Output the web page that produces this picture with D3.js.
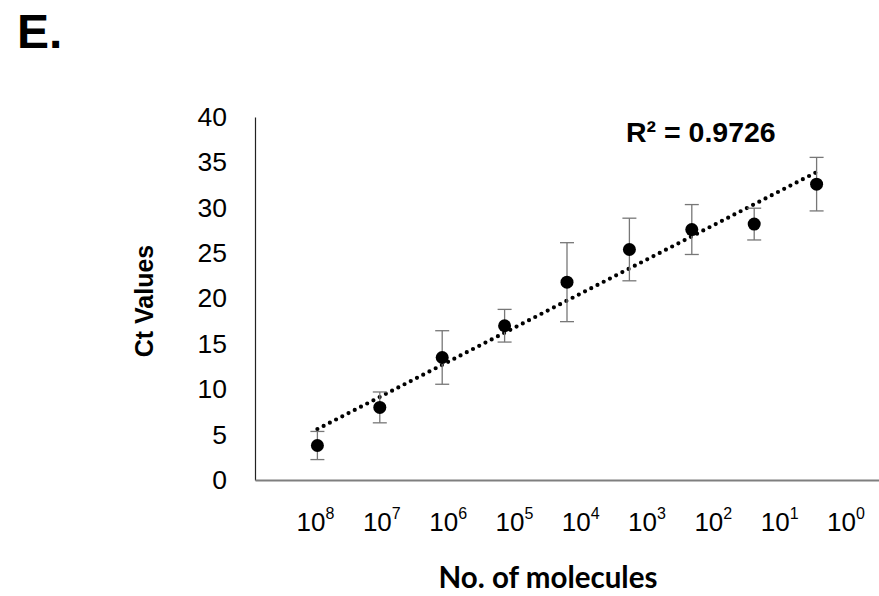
<!DOCTYPE html>
<html>
<head>
<meta charset="utf-8">
<script src="https://cdn.jsdelivr.net/npm/d3@7"></script>
<style>
  html, body { margin: 0; padding: 0; background: #fff; }
  svg { display: block; }
  text { font-family: "Liberation Sans", Arial, sans-serif; fill: #000; }
</style>
</head>
<body>
<svg id="chart" width="879" height="596"></svg>
<script>
// copy number of each dilution, shown as 10^n
const exponents = [8, 7, 6, 5, 4, 3, 2, 1, 0];
// mean Ct value per dilution (one point each, in the same order)
const ctMeans = [3.8, 8.0, 13.5, 17.0, 21.8, 25.4, 27.6, 28.2, 32.6];
// error bar half-lengths
const ctErrors = [1.55, 1.7, 2.95, 1.8, 4.35, 3.45, 2.75, 1.75, 2.95];
const yTicks = [0, 5, 10, 15, 20, 25, 30, 35, 40];
const rSquaredLabel = "R\u00b2 = 0.9726";

const W = 879, H = 596;
const svg = d3.select("#chart");

// x is the point order (1..9), Excel style scatter
const x = d3.scaleLinear().domain([0, 10]).range([255, 879]);
const y = d3.scaleLinear().domain([0, 40]).range([480, 117]);

const points = ctMeans.map((v, i) => ({ i: i + 1, v: v, e: ctErrors[i] }));

// panel letter
svg.append("text")
  .attr("x", 17).attr("y", 48)
  .style("font-size", "48px").style("font-weight", "bold")
  .text("E.");

// y axis
const yAxis = svg.append("g")
  .attr("transform", `translate(${x(0)},0)`)
  .call(d3.axisLeft(y).tickValues(yTicks).tickSize(0).tickPadding(28).tickSizeOuter(0));
yAxis.select(".domain").attr("stroke", "#222").attr("stroke-width", 1.2);
yAxis.selectAll(".tick text")
  .style("font-family", "'Liberation Sans', Arial, sans-serif")
  .style("font-size", "26.5px").attr("fill", "#000");

// x axis: just the baseline
const xAxis = svg.append("g")
  .attr("transform", `translate(0,${y(0)})`)
  .call(d3.axisBottom(x).tickValues([]).tickSizeOuter(0));
xAxis.select(".domain").attr("stroke", "#7f7f7f").attr("stroke-width", 2);

// the dilution labels sit on their own evenly spaced positions
const labelX = d3.scalePoint().domain(exponents).range([x(0.97), x(9.47)]);
const lab = svg.append("g").selectAll("text")
  .data(exponents)
  .join("text")
  .attr("x", d => labelX(d))
  .attr("y", 531)
  .attr("text-anchor", "middle")
  .style("font-size", "26px");
lab.append("tspan").text("10");
lab.append("tspan")
  .attr("dy", -12)
  .style("font-size", "16px")
  .text(d => d);

// trendline (least squares on the points)
const mx = d3.mean(points, d => d.i), my = d3.mean(points, d => d.v);
const slope = d3.sum(points, d => (d.i - mx) * (d.v - my)) / d3.sum(points, d => (d.i - mx) ** 2);
const icpt = my - slope * mx;
const x0 = d3.min(points, d => d.i), x1 = d3.max(points, d => d.i);
svg.append("line")
  .attr("x1", x(x0)).attr("y1", y(icpt + slope * x0))
  .attr("x2", x(x1)).attr("y2", y(icpt + slope * x1))
  .attr("stroke", "#000")
  .attr("stroke-width", 4.2)
  .attr("stroke-linecap", "round")
  .attr("stroke-dasharray", "0 7");

// error bars
const eb = svg.append("g").attr("stroke", "#777").attr("stroke-width", 1.3);
eb.selectAll("line.v").data(points).join("line").attr("class", "v")
  .attr("x1", d => x(d.i)).attr("x2", d => x(d.i))
  .attr("y1", d => y(d.v + d.e)).attr("y2", d => y(d.v - d.e));
eb.selectAll("line.t").data(points).join("line").attr("class", "t")
  .attr("x1", d => x(d.i) - 7).attr("x2", d => x(d.i) + 7)
  .attr("y1", d => y(d.v + d.e)).attr("y2", d => y(d.v + d.e));
eb.selectAll("line.b").data(points).join("line").attr("class", "b")
  .attr("x1", d => x(d.i) - 7).attr("x2", d => x(d.i) + 7)
  .attr("y1", d => y(d.v - d.e)).attr("y2", d => y(d.v - d.e));

// points
svg.append("g").selectAll("circle")
  .data(points)
  .join("circle")
  .attr("cx", d => x(d.i))
  .attr("cy", d => y(d.v))
  .attr("r", 6.5)
  .attr("fill", "#000");

// R squared
svg.append("text")
  .attr("x", 626).attr("y", 142)
  .style("font-size", "28.5px").style("font-weight", "bold")
  .text(rSquaredLabel);

// axis titles
svg.append("text")
  .attr("transform", "translate(153,301) rotate(-90)")
  .attr("text-anchor", "middle")
  .style("font-size", "25px").style("font-weight", "bold")
  .text("Ct Values");

svg.append("text")
  .attr("x", 548).attr("y", 588)
  .attr("text-anchor", "middle")
  .style("font-family", "Lato, 'Open Sans', sans-serif")
  .style("font-size", "29.5px").style("font-weight", "bold")
  .text("No. of molecules");
</script>
</body>
</html>
